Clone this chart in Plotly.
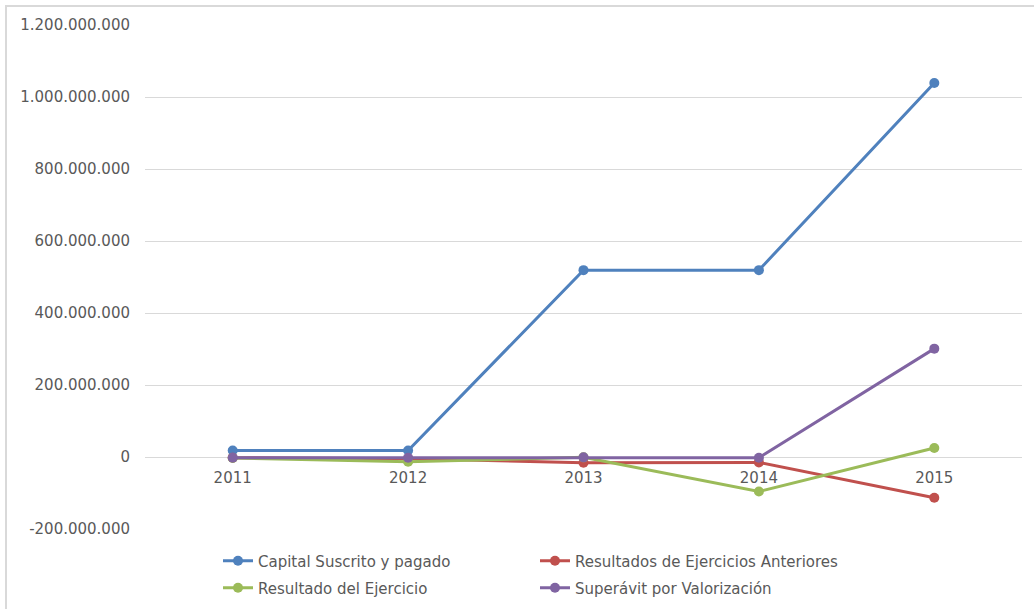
import plotly.graph_objects as go

# Years on the category axis
years = ["2011", "2012", "2013", "2014", "2015"]

# Equity components per year
capital_suscrito = [18_000_000, 18_000_000, 519_000_000, 519_000_000, 1_039_000_000]
resultados_anteriores = [-2_000_000, -5_000_000, -16_000_000, -15_000_000, -113_000_000]
resultado_ejercicio = [-3_000_000, -13_000_000, -1_000_000, -96_000_000, 25_000_000]
superavit_valorizacion = [-2_000_000, -2_000_000, -1_000_000, -2_000_000, 301_000_000]

series_names = [
    "Capital Suscrito y pagado",
    "Resultados de Ejercicios Anteriores",
    "Resultado del Ejercicio",
    "Superávit por Valorización",
]
series_values = [capital_suscrito, resultados_anteriores, resultado_ejercicio, superavit_valorizacion]
series_colors = ["#4F81BD", "#C0504D", "#9BBB59", "#8064A2"]
# legend row for each series (two rows of two entries)
series_legend = ["legend", "legend", "legend2", "legend2"]

# Value axis ticks
y_tickvals = [-200_000_000, 0, 200_000_000, 400_000_000, 600_000_000, 800_000_000, 1_000_000_000, 1_200_000_000]
y_ticktext = ["-200.000.000", "0", "200.000.000", "400.000.000", "600.000.000",
              "800.000.000", "1.000.000.000", "1.200.000.000"]
y_min, y_max = -200_000_000, 1_200_000_000

W, H = 1034, 609
M_L, M_R, M_T, M_B = 145, 12, 25, 80
text_color = "#595959"
grid_color = "#D9D9D9"
font_family = "DejaVu Sans"
font_size = 15

fig = go.Figure()
for name, vals, col, lg in zip(series_names, series_values, series_colors, series_legend):
    fig.add_trace(go.Scatter(
        x=years, y=vals, name=name, mode="lines+markers",
        line=dict(color=col, width=3),
        marker=dict(color=col, size=10),
        legend=lg,
    ))

# category axis sits on the zero line
zero_pos = (0 - y_min) / (y_max - y_min)

legend_common = dict(
    orientation="h", xref="container", yref="container",
    x=218 / W, xanchor="left", yanchor="middle",
    entrywidth=272, itemwidth=30, tracegroupgap=0,
    font=dict(family=font_family, size=font_size, color=text_color),
    bgcolor="rgba(0,0,0,0)",
)

fig.update_layout(
    width=W, height=H,
    margin=dict(l=M_L, r=M_R, t=M_T, b=M_B, autoexpand=False),
    paper_bgcolor="white", plot_bgcolor="white",
    font=dict(family=font_family, size=font_size, color=text_color),
    showlegend=True,
    legend=dict(legend_common, y=1 - 561 / H),
    legend2=dict(legend_common, y=1 - 588 / H),
    xaxis=dict(
        type="category", range=[-0.5, len(years) - 0.5],
        anchor="free", position=zero_pos,
        showline=False, showgrid=False, ticks="",
        tickfont=dict(family=font_family, size=font_size, color=text_color),
        ticklabelstandoff=10,
    ),
    yaxis=dict(
        range=[y_min, y_max], tickvals=y_tickvals, ticktext=y_ticktext,
        showgrid=True, gridcolor=grid_color, gridwidth=1,
        zeroline=True, zerolinecolor=grid_color, zerolinewidth=1,
        showline=False, ticks="",
        tickfont=dict(family=font_family, size=font_size, color=text_color),
        ticklabelstandoff=14,
    ),
)

# outer chart frame (left and top edges visible)
pw = W - M_L - M_R
ph = H - M_T - M_B
def px_x(p):
    return (p - M_L) / pw
def px_y(p):
    return 1 - (p - M_T) / ph
fig.add_shape(type="rect", xref="paper", yref="paper",
              x0=px_x(6), x1=px_x(W + 20), y0=px_y(H + 20), y1=px_y(6),
              line=dict(color="#D9D9D9", width=2), fillcolor="rgba(0,0,0,0)", layer="below")

fig.write_html("out.html")
